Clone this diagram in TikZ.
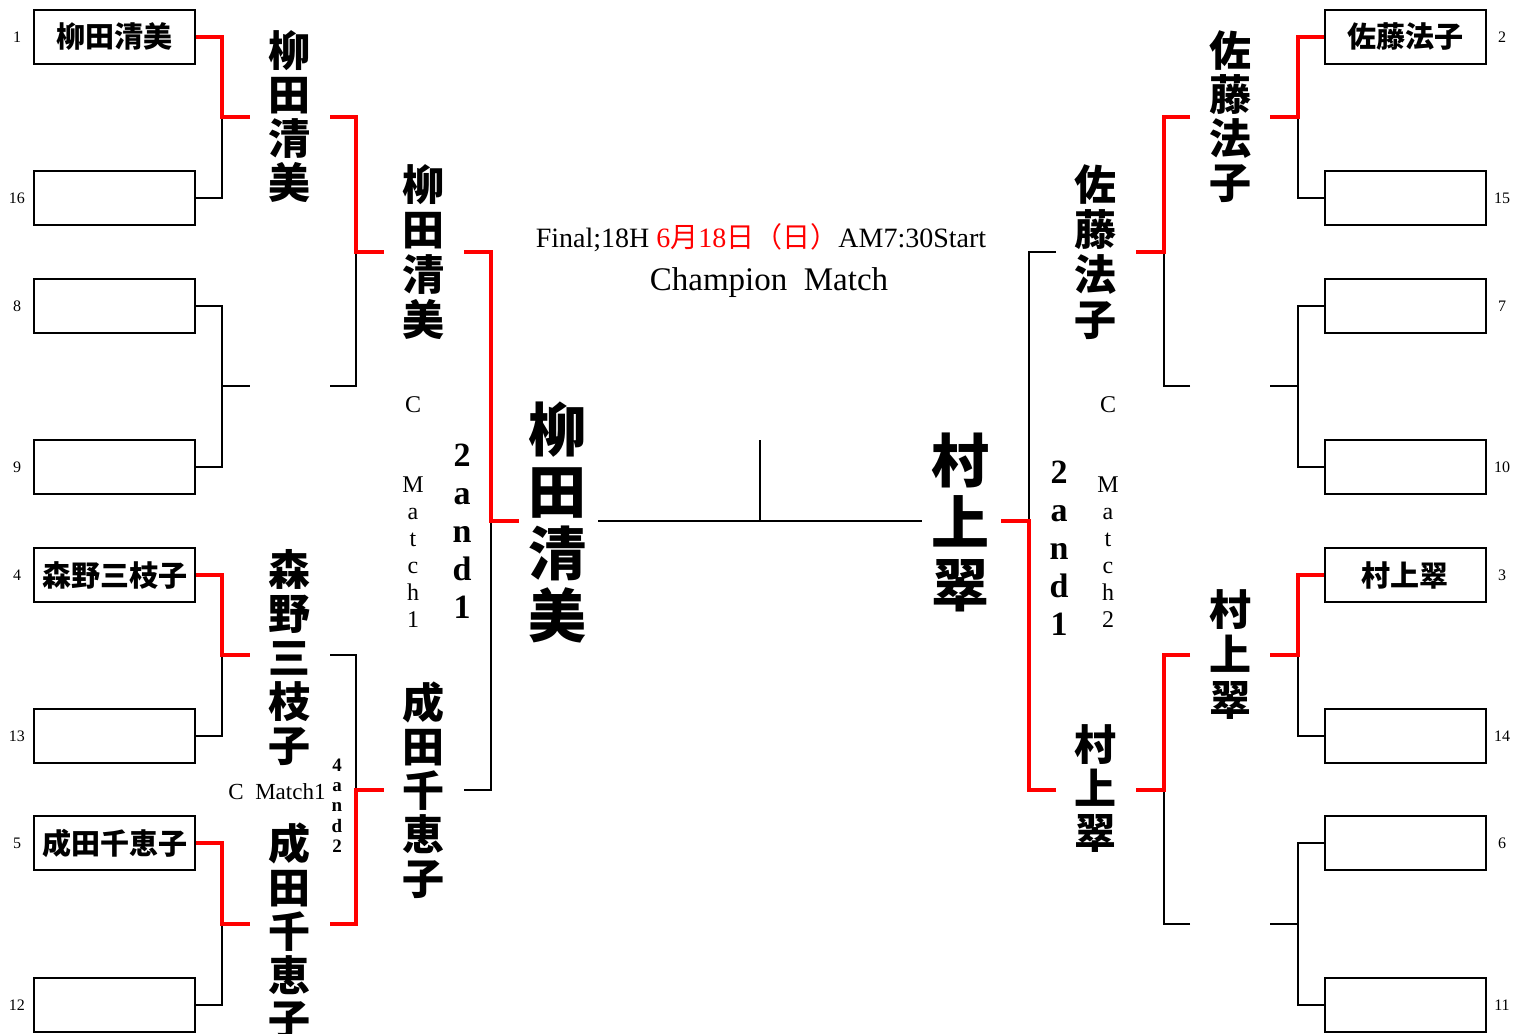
\documentclass[tikz,border=0pt]{standalone}
\usepackage{fontspec}
\setmainfont{Liberation Serif}
\newfontfamily\jp{Noto Sans CJK JP}
\begin{document}
\begin{tikzpicture}[x=1pt,y=-1pt,
  box/.style={draw,line width=2pt,minimum width=161pt,minimum height=54pt,inner sep=0pt,font=\jp\bfseries\fontsize{29}{29}\selectfont},
  num/.style={inner sep=0pt,font=\fontsize{16}{16}\selectfont},
  ln/.style={line width=2pt,black},
  win/.style={line width=3.2pt,red},
  vn/.style={align=center,inner sep=0pt,font=\jp\bfseries\fontsize{42}{44}\selectfont},
  vbig/.style={align=center,inner sep=0pt,font=\jp\bfseries\fontsize{58}{62}\selectfont},
  vlab/.style={align=center,inner sep=0pt,font=\fontsize{24}{27}\selectfont},
  vres/.style={align=center,inner sep=0pt,font=\bfseries\fontsize{34}{38}\selectfont},
  vsml/.style={align=center,inner sep=0pt,font=\bfseries\fontsize{19}{20.25}\selectfont}]
\useasboundingbox[fill=white] (0,0) rectangle (1525,1033);
% left boxes
\node[box] (L1) at (114.5,37) {柳田清美};
\node[box] (L16) at (114.5,198) {};
\node[box] (L8) at (114.5,306) {};
\node[box] (L9) at (114.5,467) {};
\node[box] (L4) at (114.5,575) {森野三枝子};
\node[box] (L13) at (114.5,736) {};
\node[box] (L5) at (114.5,843) {成田千恵子};
\node[box] (L12) at (114.5,1005) {};
% right boxes
\node[box] (R2) at (1405,37) {佐藤法子};
\node[box] (R15) at (1405,198) {};
\node[box] (R7) at (1405,306) {};
\node[box] (R10) at (1405,467) {};
\node[box] (R3) at (1405,575) {村上翠};
\node[box] (R14) at (1405,736) {};
\node[box] (R6) at (1405,843) {};
\node[box] (R11) at (1405,1005) {};
% seed numbers
\node[num] (n1) at (17,37) {1};
\node[num] (n16) at (17,198) {16};
\node[num] (n8) at (17,306) {8};
\node[num] (n9) at (17,467) {9};
\node[num] (n4) at (17,575) {4};
\node[num] (n13) at (17,736) {13};
\node[num] (n5) at (17,843) {5};
\node[num] (n12) at (17,1005) {12};
\node[num] (n2) at (1502,37) {2};
\node[num] (n15) at (1502,198) {15};
\node[num] (n7) at (1502,306) {7};
\node[num] (n10) at (1502,467) {10};
\node[num] (n3) at (1502,575) {3};
\node[num] (n14) at (1502,736) {14};
\node[num] (n6) at (1502,843) {6};
\node[num] (n11) at (1502,1005) {11};
% left coordinates
\coordinate (kA) at (222,117); \coordinate (jA) at (250,117); \coordinate (sA) at (330,117);
\coordinate (kB) at (222,386); \coordinate (jB) at (250,386); \coordinate (sB) at (330,386);
\coordinate (kC) at (222,655); \coordinate (jC) at (250,655); \coordinate (sC) at (330,655);
\coordinate (kD) at (222,924); \coordinate (jD) at (250,924); \coordinate (sD) at (330,924);
\coordinate (kE) at (356,252); \coordinate (jE) at (384,252); \coordinate (sE) at (464,252);
\coordinate (kF) at (356,790); \coordinate (jF) at (384,790); \coordinate (sF) at (464,790);
\coordinate (kG) at (491,521); \coordinate (jG) at (519,521); \coordinate (sG) at (598,521);
% right coordinates
\coordinate (rkA) at (1298,117); \coordinate (rjA) at (1270,117); \coordinate (rsA) at (1190,117);
\coordinate (rkB) at (1298,386); \coordinate (rjB) at (1270,386); \coordinate (rsB) at (1190,386);
\coordinate (rkC) at (1298,655); \coordinate (rjC) at (1270,655); \coordinate (rsC) at (1190,655);
\coordinate (rkD) at (1298,924); \coordinate (rjD) at (1270,924); \coordinate (rsD) at (1190,924);
\coordinate (rkE) at (1164,252); \coordinate (rjE) at (1136,252); \coordinate (rsE) at (1056,252);
\coordinate (rkF) at (1164,790); \coordinate (rjF) at (1136,790); \coordinate (rsF) at (1056,790);
\coordinate (rkG) at (1029,521); \coordinate (rjG) at (1001,521); \coordinate (rsG) at (922,521);
\coordinate (ftop) at (760,440); \coordinate (fmid) at (760,521);
% left connectors
\draw[ln] (L16.east) -| (kA);
\draw[win] (L1.east) -| (kA) -- (jA);
\draw[ln] (L8.east) -| (kB);
\draw[ln] (L9.east) -| (kB) -- (jB);
\draw[ln] (L13.east) -| (kC);
\draw[win] (L4.east) -| (kC) -- (jC);
\draw[ln] (L12.east) -| (kD);
\draw[win] (L5.east) -| (kD) -- (jD);
\draw[ln] (sB) -| (kE);
\draw[win] (sA) -| (kE) -- (jE);
\draw[ln] (sC) -| (kF);
\draw[win] (sD) -| (kF) -- (jF);
\draw[ln] (sF) -| (kG);
\draw[win] (sE) -| (kG) -- (jG);
% final
\draw[ln] (sG) -- (rsG);
\draw[ln] (ftop) -- (fmid);
% right connectors
\draw[ln] (R15.west) -| (rkA);
\draw[win] (R2.west) -| (rkA) -- (rjA);
\draw[ln] (R7.west) -| (rkB);
\draw[ln] (R10.west) -| (rkB) -- (rjB);
\draw[ln] (R14.west) -| (rkC);
\draw[win] (R3.west) -| (rkC) -- (rjC);
\draw[ln] (R6.west) -| (rkD);
\draw[ln] (R11.west) -| (rkD) -- (rjD);
\draw[ln] (rsB) -| (rkE);
\draw[win] (rsA) -| (rkE) -- (rjE);
\draw[ln] (rsD) -| (rkF);
\draw[win] (rsC) -| (rkF) -- (rjF);
\draw[ln] (rsE) -| (rkG);
\draw[win] (rsF) -| (rkG) -- (rjG);
% winner names left
\node[vn] (wA) at (289,117) {柳\\田\\清\\美};
\node[vn] (wC) at (289,658) {森\\野\\三\\枝\\子};
\node[vn] (wD) at (289,931) {成\\田\\千\\恵\\子};
\node[vn,font=\jp\bfseries\fontsize{42}{45}\selectfont] (wE) at (423,252) {柳\\田\\清\\美};
\node[vn] (wF) at (423,790) {成\\田\\千\\恵\\子};
\node[vbig] (wG) at (557,522) {柳\\田\\清\\美};
% winner names right
\node[vn] (rwA) at (1230,117) {佐\\藤\\法\\子};
\node[vn,font=\jp\bfseries\fontsize{42}{45}\selectfont] (rwC) at (1230,655) {村\\上\\翠};
\node[vn,font=\jp\bfseries\fontsize{42}{45}\selectfont] (rwE) at (1095,252) {佐\\藤\\法\\子};
\node[vn] (rwF) at (1095,789) {村\\上\\翠};
\node[vbig] (rwG) at (960,522) {村\\上\\翠};
% match labels
\node[vlab] (cm1) at (413,512.5) {C\\[53pt]M\\a\\t\\c\\h\\1};
\node[vres] (sc1) at (462,531) {2\\a\\n\\d\\1};
\node[vlab] (cm2) at (1108,512.5) {C\\[53pt]M\\a\\t\\c\\h\\2};
\node[vres] (sc2) at (1059,548.5) {2\\a\\n\\d\\1};
\node[inner sep=0pt,font=\fontsize{23}{23}\selectfont] (cm1b) at (277,792) {C\ \ Match1};
\node[vsml] (sc3) at (337,805.5) {4\\a\\n\\d\\2};
% title
\node[inner sep=0pt,font=\fontsize{28}{28}\selectfont] (title) at (761,238) {Final;18H \textcolor{red}{6{\jp 月}18{\jp 日（日）}}AM7:30Start};
\node[inner sep=0pt,font=\fontsize{33}{33}\selectfont] (champ) at (769,283) {Champion\ \ Match};
\end{tikzpicture}
\end{document}
